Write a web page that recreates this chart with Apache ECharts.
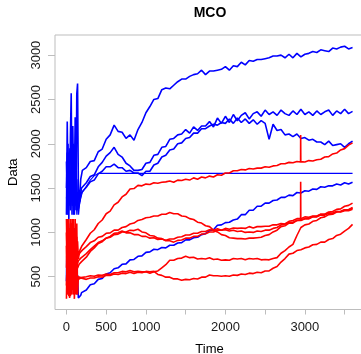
<!DOCTYPE html>
<html>
<head>
<meta charset="utf-8">
<script src="https://cdn.jsdelivr.net/npm/echarts@6/dist/echarts.min.js"></script>
<style>
  html, body { margin: 0; padding: 0; background: #ffffff; }
  #chart { width: 361px; height: 354px; }
</style>
</head>
<body>
<div id="chart"></div>
<script>
// Time grid shared by every trace: fine steps through the turbulent start, then every 50.
const times = [
  0, 10, 20, 30, 40, 50, 60, 70, 80, 90, 100, 110, 120, 130, 140, 150, 160, 170, 180, 190, 200,
  250, 300, 350, 400, 450, 500, 550, 600, 650, 700, 750, 800, 850, 900, 950, 1000,
  1050, 1100, 1150, 1200, 1250, 1300, 1350, 1400, 1450, 1500, 1550, 1600, 1650, 1700,
  1750, 1800, 1850, 1900, 1950, 2000, 2050, 2100, 2150, 2200, 2250, 2300, 2350, 2400,
  2450, 2500, 2550, 2600, 2650, 2700, 2750, 2800, 2850, 2900, 2950, 3000, 3050, 3100,
  3150, 3200, 3250, 3300, 3350, 3400, 3450, 3500, 3550, 3600
];

// Blue traces
const blue1 = [
  1200, 2250, 1500, 1900, 1300, 2100, 2570, 1400, 1750, 1200, 1600, 2300, 1350, 2560, 2680, 1500, 1300, 1450, 1600, 1650, 1700,
  1730, 1800, 1810, 1910, 1940, 2050, 2100, 2210, 2140, 2130, 2060, 2100, 2040, 2160, 2240, 2350,
  2420, 2500, 2510, 2610, 2630, 2620, 2660, 2700, 2730, 2730, 2760, 2780, 2790, 2830,
  2780, 2820, 2820, 2830, 2840, 2870, 2830, 2880, 2870, 2920, 2890, 2940, 2930, 2950,
  2950, 2960, 2970, 2990, 2990, 3000, 2970, 3010, 2970, 3020, 2980, 3010, 3020, 3040,
  3030, 3060, 3050, 3040, 3080, 3070, 3090, 3100, 3070, 3085
];
const blue2 = [
  1800, 1300, 2000, 1150, 1700, 1400, 1900, 1200, 2200, 1500, 1350, 1800, 1250, 1600, 1300, 1450, 1400, 1350, 1450, 1500, 1520,
  1560, 1630, 1650, 1740, 1790, 1860, 1900, 1960, 1880, 1850, 1780, 1750, 1700, 1700, 1710, 1780,
  1790, 1870, 1880, 1960, 1970, 2050, 2060, 2100, 2110, 2160, 2120, 2190, 2150, 2200,
  2200, 2250, 2190, 2290, 2230, 2310, 2240, 2330, 2260, 2320, 2350, 2280, 2340, 2360,
  2310, 2380, 2330, 2360, 2320, 2380, 2340, 2320, 2370, 2330, 2390, 2330, 2360, 2320,
  2370, 2330, 2360, 2380, 2320, 2370, 2340, 2390, 2340, 2365
];
const blue3 = [
  1500, 1900, 1200, 1700, 1600, 1250, 1500, 1800, 1300, 2000, 1200, 1500, 1900, 1250, 1400, 1200, 1300, 1380, 1400, 1450, 1470,
  1510, 1570, 1590, 1660, 1690, 1740, 1740, 1770, 1730, 1730, 1690, 1700, 1670, 1670, 1640, 1690,
  1690, 1760, 1780, 1850, 1870, 1930, 1940, 2000, 2010, 2060, 2070, 2120, 2120, 2170,
  2170, 2200, 2220, 2210, 2240, 2230, 2280, 2230, 2290, 2240, 2280, 2230, 2270, 2220,
  2260, 2230, 2050, 2220, 2150, 2160, 2100, 2110, 2080, 2110, 2060, 2070, 2040, 2050,
  2020, 2020, 1990, 2030, 1980, 1990, 2000, 1960, 2000, 2030
];
const blue4 = [
  450, 1150, 350, 800, 500, 1100, 330, 600, 900, 420, 1050, 380, 700, 300, 520, 260, 280, 250, 290, 320, 340,
  350, 410, 420, 470, 480, 530, 545, 590, 600, 640, 645, 690, 695, 730, 735, 775,
  780, 810, 805, 830, 825, 855, 855, 880, 885, 915, 915, 940, 945, 975,
  985, 1020, 1030, 1080, 1085, 1110, 1115, 1140, 1150, 1200, 1200, 1250, 1250, 1295,
  1295, 1330, 1330, 1360, 1365, 1395, 1395, 1420, 1415, 1450, 1445, 1470, 1465, 1490,
  1485, 1515, 1510, 1525, 1525, 1545, 1535, 1560, 1545, 1565
];
const blue5 = [
  1400, 1200, 1700, 1350, 1950, 1250, 1600, 1300, 1500, 1250, 1700, 1300, 1450, 1200, 1350, 1250, 1300, 1350, 1380, 1420, 1450,
  1520, 1590, 1640, 1666, 1666, 1666, 1666, 1666, 1666, 1666, 1666, 1666, 1666, 1666, 1666, 1666,
  1666, 1666, 1666, 1666, 1666, 1666, 1666, 1666, 1666, 1666, 1666, 1666, 1666, 1666,
  1666, 1666, 1666, 1666, 1666, 1666, 1666, 1666, 1666, 1666, 1666, 1666, 1666, 1666,
  1666, 1666, 1666, 1666, 1666, 1666, 1666, 1666, 1666, 1666, 1666, 1666, 1666, 1666,
  1666, 1666, 1666, 1666, 1666, 1666, 1666, 1666, 1666, 1666
];

// Red traces
const red1 = [
  1000, 300, 1150, 500, 900, 280, 1100, 700, 350, 1000, 450, 1150, 600, 300, 900, 700, 760, 800, 820, 840, 860,
  920, 990, 1030, 1100, 1140, 1210, 1240, 1310, 1340, 1400, 1430, 1490, 1495, 1530, 1525, 1545,
  1540, 1560, 1555, 1565, 1570, 1580, 1565, 1590, 1585, 1600, 1590, 1615, 1600, 1625,
  1615, 1635, 1625, 1650, 1645, 1670, 1670, 1695, 1695, 1710, 1705, 1720, 1715, 1725,
  1725, 1740, 1735, 1750, 1755, 1775, 1775, 1790, 1785, 1800, 1800, 1795, 1810, 1805,
  1820, 1825, 1850, 1855, 1885, 1895, 1930, 1945, 1985, 2010
];
const red2 = [
  600, 1100, 350, 950, 260, 1000, 500, 1150, 400, 800, 300, 1050, 450, 950, 700, 740, 760, 770, 780, 790, 800,
  840, 885, 905, 945, 955, 990, 995, 1025, 1025, 1055, 1065, 1095, 1105, 1135, 1145, 1165,
  1170, 1185, 1185, 1205, 1205, 1225, 1210, 1210, 1185, 1180, 1155, 1145, 1115, 1105,
  1075, 1065, 1025, 1005, 975, 965, 940, 935, 930, 930, 925, 935, 935, 940,
  945, 965, 975, 1005, 1025, 1065, 1075, 1105, 1105, 1135, 1135, 1155, 1155, 1180,
  1180, 1205, 1205, 1230, 1235, 1260, 1265, 1295, 1305, 1330
];
const red3 = [
  250, 900, 1150, 400, 1050, 550, 300, 950, 700, 1150, 380, 600, 1000, 500, 650, 680, 690, 700, 710, 720, 730,
  760, 805, 845, 885, 905, 935, 945, 975, 980, 1005, 1005, 1025, 1020, 1035, 1005, 995,
  965, 960, 935, 930, 905, 905, 890, 910, 915, 935, 935, 955, 955, 980,
  985, 1005, 1005, 1025, 1025, 1045, 1035, 1050, 1045, 1050, 1045, 1065, 1050, 1065,
  1065, 1070, 1070, 1085, 1085, 1100, 1095, 1115, 1115, 1135, 1145, 1155, 1155, 1175,
  1175, 1195, 1195, 1215, 1215, 1235, 1235, 1255, 1255, 1280
];
const red4 = [
  850, 400, 700, 1150, 330, 800, 1100, 300, 1000, 550, 900, 300, 800, 650, 600, 620, 640, 650, 660, 670, 680,
  720, 785, 825, 875, 895, 935, 955, 990, 995, 1015, 995, 995, 975, 975, 955, 955,
  935, 940, 920, 925, 910, 925, 925, 945, 950, 970, 970, 990, 990, 1010,
  1010, 1030, 1025, 1040, 1025, 1030, 1015, 1025, 1010, 1015, 1000, 1005, 1000, 1015,
  1010, 1025, 1025, 1045, 1055, 1085, 1095, 1125, 1135, 1155, 1155, 1175, 1170, 1185,
  1185, 1205, 1205, 1220, 1215, 1235, 1230, 1245, 1245, 1260
];
const red5 = [
  400, 700, 300, 1000, 600, 1150, 350, 850, 500, 300, 1000, 700, 400, 1100, 300, 500, 480, 500, 490, 500, 510,
  500, 510, 505, 520, 515, 530, 525, 545, 545, 560, 555, 570, 555, 560, 555, 555,
  540, 555, 565, 600, 635, 685, 685, 705, 710, 730, 715, 720, 700, 705,
  700, 713, 695, 700, 685, 690, 685, 705, 700, 705, 690, 705, 700, 705,
  690, 695, 690, 705, 715, 765, 795, 835, 865, 965, 1055, 1085, 1095, 1125,
  1135, 1165, 1175, 1200, 1205, 1230, 1235, 1255, 1255, 1275
];
const red6 = [
  1150, 550, 900, 280, 700, 400, 950, 500, 1150, 650, 250, 900, 350, 500, 480, 470, 490, 480, 485, 490, 480,
  470, 485, 485, 500, 495, 515, 515, 530, 525, 540, 535, 550, 535, 550, 545, 560,
  555, 560, 525, 515, 495, 495, 475, 475, 460, 470, 465, 480, 475, 495,
  495, 520, 510, 510, 505, 510, 505, 520, 515, 530, 525, 540, 535, 550,
  545, 565, 565, 595, 615, 665, 705, 755, 765, 795, 805, 825, 835, 860,
  865, 890, 890, 920, 930, 965, 980, 1015, 1045, 1090
];

// Sudden jumps recorded just before t = 2950
const red1Jump = [[2946, 1795], [2947, 2100], [2949, 1798]];
const red3Jump = [[2946, 1140], [2947, 1572], [2949, 1142]];

// Axis ticks and labels
const xTicks = [0, 500, 1000, 1500, 2000, 2500, 3000, 3500];
const xLabels = [0, 500, 1000, 2000, 3000];
const yTicks = [500, 1000, 1500, 2000, 2500, 3000];

function pairs(vals, extra) {
  const pts = times.map((t, i) => [t, vals[i]]);
  if (extra) {
    pts.push(...extra);
    pts.sort((a, b) => a[0] - b[0]);
  }
  return pts;
}

function trace(vals, color, width, extra) {
  return {
    type: 'line',
    data: pairs(vals, extra),
    showSymbol: false,
    symbol: 'none',
    silent: true,
    lineStyle: { color: color, width: width },
    emphasis: { disabled: true }
  };
}

const BLUE = '#0000ff';
const RED = '#ff0000';
const AXIS_GREY = '#bdbdbd';
const FONT = 'Liberation Sans, Arial, sans-serif';
const plain = v => String(v);

const chart = echarts.init(document.getElementById('chart'), null, { renderer: 'canvas' });
chart.setOption({
  animation: false,
  backgroundColor: '#ffffff',
  title: {
    text: 'MCO',
    left: 205,
    top: 1,
    textAlign: 'center',
    textStyle: { fontFamily: FONT, fontSize: 14, fontWeight: 'bold', color: '#000' }
  },
  grid: {
    left: 55, right: -3, top: 35, bottom: 44.5,
    containLabel: false, outerBoundsMode: 'none',
    show: true, borderColor: AXIS_GREY, borderWidth: 1, backgroundColor: 'transparent'
  },
  xAxis: {
    type: 'value', min: -144, max: 3744,
    name: 'Time', nameLocation: 'middle', nameGap: 33,
    nameTextStyle: { fontFamily: FONT, fontSize: 13, color: '#000' },
    axisLine: { show: false, onZero: false },
    splitLine: { show: false },
    axisTick: { show: true, length: 5, customValues: xTicks, lineStyle: { color: AXIS_GREY } },
    axisLabel: { customValues: xLabels, formatter: plain, margin: 11, fontFamily: FONT, fontSize: 13, color: '#1a1a1a' }
  },
  yAxis: {
    type: 'value', min: 130, max: 3227,
    name: 'Data', nameLocation: 'middle', nameGap: 35, nameRotate: 90,
    nameTextStyle: { fontFamily: FONT, fontSize: 13, color: '#000' },
    axisLine: { show: false, onZero: false },
    splitLine: { show: false },
    axisTick: { show: true, length: 7, customValues: yTicks, lineStyle: { color: AXIS_GREY } },
    axisLabel: { customValues: yTicks, formatter: plain, rotate: 90, margin: 12, fontFamily: FONT, fontSize: 13, color: '#1a1a1a' }
  },
  series: [
    trace(blue1, BLUE, 1.6),
    trace(blue2, BLUE, 1.6),
    trace(blue3, BLUE, 1.6),
    trace(blue4, BLUE, 1.6),
    trace(blue5, BLUE, 1.1),
    trace(red1, RED, 1.6, red1Jump),
    trace(red2, RED, 1.6),
    trace(red3, RED, 1.6, red3Jump),
    trace(red4, RED, 1.6),
    trace(red5, RED, 1.6),
    trace(red6, RED, 1.6)
  ]
});
</script>
</body>
</html>
